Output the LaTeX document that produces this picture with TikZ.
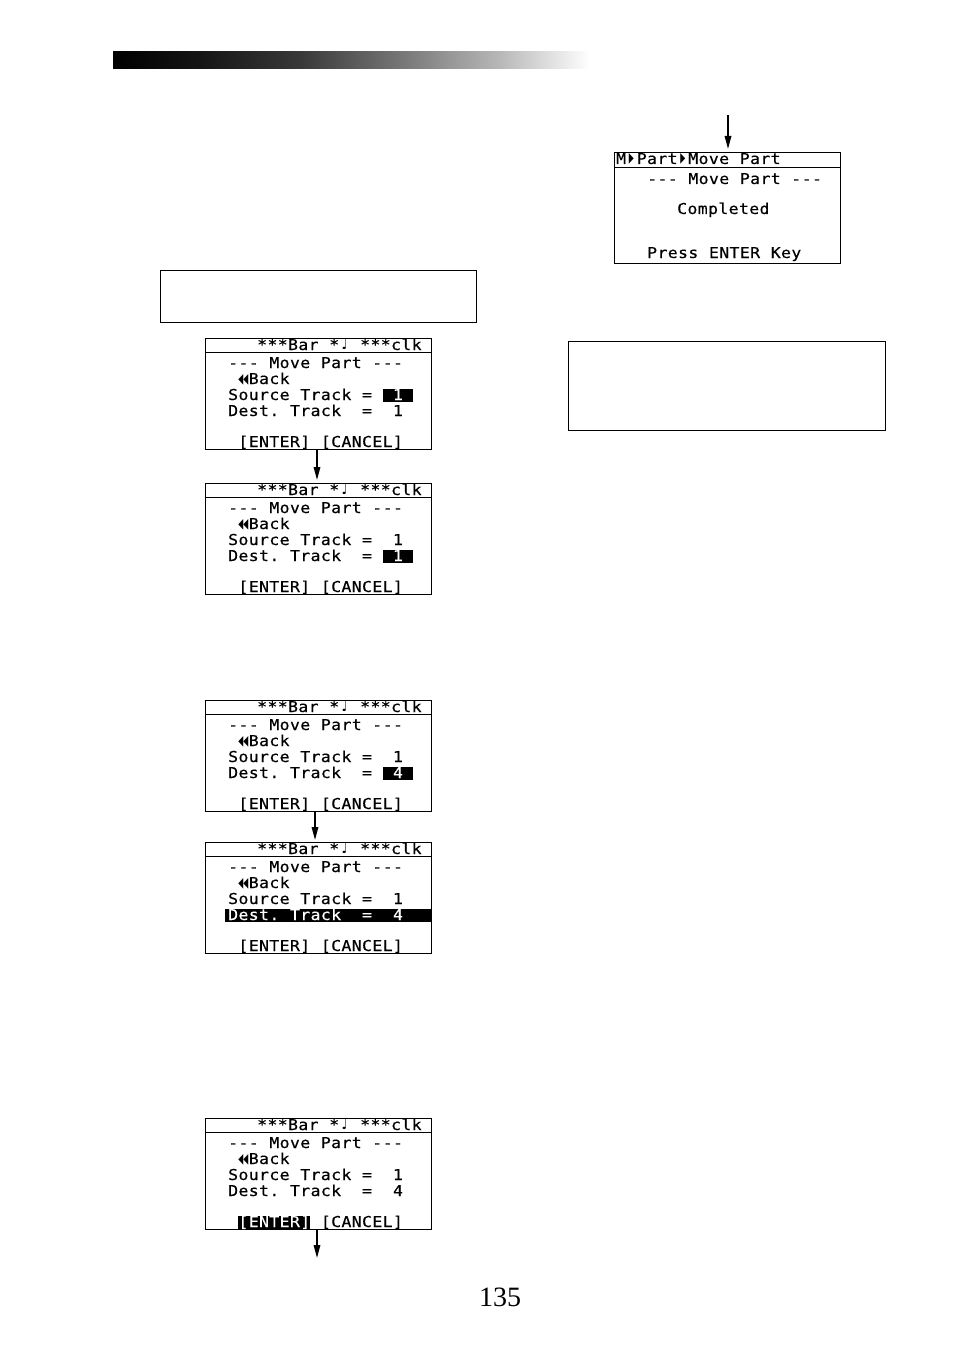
\documentclass[tikz,border=0pt]{standalone}
\usepackage{fontspec}
\usepackage{graphicx}
\setmainfont{Liberation Serif}
\newfontfamily\lcdfam[FakeStretch=1.1,FakeBold=0.4]{DejaVu Sans Mono}
\newfontfamily\symfam{DejaVu Sans}
\usetikzlibrary{arrows.meta}
\newdimen\cellw \cellw=10.3pt
\ExplSyntaxOn
\NewDocumentCommand\mono{m}{\str_map_inline:nn{#1}{\str_if_eq:nnTF{##1}{_}{\hspace{\cellw}}{\makebox[\cellw][c]{##1}}}}
\ExplSyntaxOff
\newcommand\lcd{\lcdfam\fontsize{15}{16}\selectfont}
\newcommand\note{\makebox[\cellw][c]{\raisebox{0.5pt}{\resizebox{6pt}{11pt}{\symfam ♩}}}}
\newcommand\tri{\raisebox{1pt}{\resizebox{5pt}{9pt}{\symfam ◀}}}
\newcommand\back{\makebox[\cellw][l]{\tri\tri}}
\newcommand\fwd{\makebox[\cellw][c]{\raisebox{1pt}{\resizebox{5pt}{9pt}{\symfam ▶}}}}
\newcommand\hl[1]{{\setlength\fboxsep{0pt}\colorbox{black}{\color{white}\rule[-1.5pt]{0pt}{12.8pt}#1}}}
\pgfdeclarehorizontalshading{barshade}{100bp}{color(0bp)=(black); color(25bp)=(black); color(34bp)=(black!92); color(44.5bp)=(black!78); color(55bp)=(black!54); color(65.5bp)=(black!28); color(75bp)=(white); color(100bp)=(white)}
\tikzset{
 screen/.style={draw, line width=0.9pt, minimum width=226pt, minimum height=111pt, inner sep=0pt, outer sep=0pt},
 lcdtxt/.style={anchor=base west, inner sep=0pt, outer sep=0pt, font=\lcd},
 frame/.style={draw, line width=0.9pt, inner sep=0pt, outer sep=0pt},
 arr/.style={line width=1.6pt, -{Triangle[length=13pt,width=6.5pt]}},
}
\newcommand\scr[6]{%
 \node[screen] (#1) at (#2+113,#3+55.5) {};
 \draw[line width=0.9pt] ([yshift=-14.5pt]#1.north west) -- ([yshift=-14.5pt]#1.north east);
 \node[lcdtxt] (#1h) at (#2+52,#3+12) {\mono{***Bar_*}\note\mono{_***clk}};
 \node[lcdtxt] (#1t) at (#2+23,#3+30) {\mono{---_Move_Part_---}};
 \node[lcdtxt] (#1b) at (#2+23,#3+46) {\mono{_}\back\mono{Back}};
 \node[lcdtxt] (#1s) at (#2+23,#3+62) {#4};
 \node[lcdtxt] (#1d) at (#2+23,#3+78) {#5};
 \node[lcdtxt] (#1e) at (#2+23,#3+109) {#6};
}
\begin{document}
\begin{tikzpicture}[x=1pt,y=-1pt]
\path[fill=white] (0,0) rectangle (954,1351);
\useasboundingbox (0,0) rectangle (954,1351);
% header bar
\shade[shading=barshade] (113,52) rectangle (590,69);
% top-right screen
\node[screen] (F) at (727,207.5) {};
\draw[line width=0.9pt] ([yshift=-15pt]F.north west) -- ([yshift=-15pt]F.north east);
\node[lcdtxt] (Fh) at (616,164) {\mono{M}\fwd\mono{Part}\fwd\mono{Move_Part}};
\node[lcdtxt] (Fc) at (677,214) {\mono{Completed}};
\node[lcdtxt] (Ft) at (647,184) {\mono{---_Move_Part_---}};
\node[lcdtxt] (Fp) at (647,258) {\mono{Press_ENTER_Key}};
\coordinate (Fstart) at (728,115);
\draw[arr] (Fstart) -- ([xshift=1pt,yshift=3pt]F.north);
% empty boxes
\node[frame, minimum width=316pt, minimum height=52pt] (box1) at (318,296) {};
\node[frame, minimum width=317pt, minimum height=89pt] (box2) at (726.5,385.5) {};
% screens
\scr{A}{205}{338}{\mono{Source_Track_=_}\hl{\mono{_1_}}}{\mono{Dest._Track__=__1}}{\mono{_[ENTER]_[CANCEL]}}
\scr{B}{205}{483}{\mono{Source_Track_=__1}}{\mono{Dest._Track__=_}\hl{\mono{_1_}}}{\mono{_[ENTER]_[CANCEL]}}
\scr{C}{205}{700}{\mono{Source_Track_=__1}}{\mono{Dest._Track__=_}\hl{\mono{_4_}}}{\mono{_[ENTER]_[CANCEL]}}
\scr{D}{205}{842}{\mono{Source_Track_=__1}}{\kern-3pt\hl{\kern3pt\mono{Dest._Track__=__4}\kern28pt}}{\mono{_[ENTER]_[CANCEL]}}
\scr{E}{205}{1118}{\mono{Source_Track_=__1}}{\mono{Dest._Track__=__4}}{\mono{_}\hl{\mono{[ENTER]}}\mono{_[CANCEL]}}
% connectors
\draw[arr] ([xshift=-1pt]A.south) -- ([xshift=-1pt,yshift=3pt]B.north);
\draw[arr] ([xshift=-3pt]C.south) -- ([xshift=-3pt,yshift=2pt]D.north);
\coordinate (Eend) at (317,1258);
\draw[arr] ([xshift=-1pt]E.south) -- (Eend);
% page number
\node[inner sep=0pt] (pg) at (500,1297) {\fontsize{28}{28}\selectfont 135};
\end{tikzpicture}
\end{document}
